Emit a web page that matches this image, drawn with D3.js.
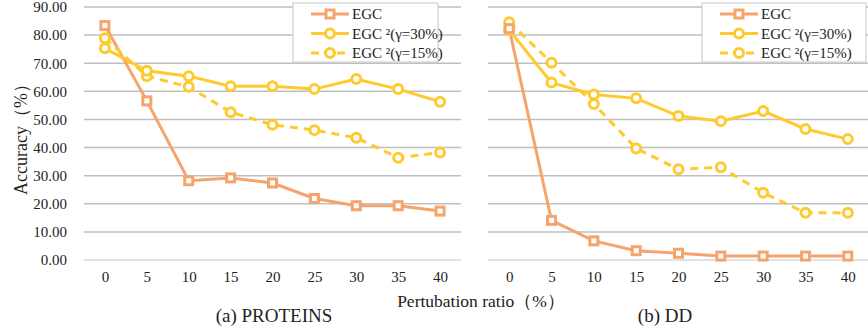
<!DOCTYPE html>
<html>
<head>
<meta charset="utf-8">
<script src="https://cdn.jsdelivr.net/npm/d3@7"></script>
<style>
body { margin: 0; background: #fff; }
svg text { font-family: "Liberation Serif", "Times New Roman", serif; fill: #222; }
</style>
</head>
<body>
<div id="chart"></div>
<script>
// perturbation ratios (x categories)
var ratios = ["0", "5", "10", "15", "20", "25", "30", "35", "40"];
var yTicks = [0, 10, 20, 30, 40, 50, 60, 70, 80, 90];
var seriesNames = ["EGC", "EGC \u00B2(\u03B3=30%)", "EGC \u00B2(\u03B3=15%)"];

// (a) PROTEINS
var proteinsEGC = [83.4, 56.6, 28.2, 29.2, 27.4, 21.9, 19.3, 19.3, 17.4];
var proteins30 = [75.3, 67.3, 65.4, 61.8, 61.8, 60.8, 64.4, 60.8, 56.3];
var proteins15 = [78.9, 65.4, 61.6, 52.6, 48.1, 46.2, 43.5, 36.4, 38.2];

// (b) DD
var ddEGC = [82.3, 14.1, 6.8, 3.3, 2.4, 1.4, 1.4, 1.4, 1.4];
var dd30 = [81.8, 63.1, 58.9, 57.5, 51.2, 49.4, 53.0, 46.6, 43.0];
var dd15 = [84.6, 70.2, 55.5, 39.7, 32.3, 33.0, 23.9, 16.8, 16.8];

var W = 868, H = 333;
var orange = "#F4A46C", yellow = "#FFCA2E";
var serif = "'Liberation Serif', 'Times New Roman', serif";

var svg = d3.select("#chart").append("svg")
    .attr("width", W)
    .attr("height", H)
    .attr("font-family", serif);

var y = d3.scaleLinear().domain([0, 90]).range([260, 7]);

var panels = [
  {range: [84, 461], series: [proteinsEGC, proteins30, proteins15], yLabels: true, caption: "(a) PROTEINS", cx: 274, legendX: 293},
  {range: [488, 869], series: [ddEGC, dd30, dd15], yLabels: false, caption: "(b) DD", cx: 665, legendX: 702}
];

var styles = [
  {color: orange, dash: null, marker: "square"},
  {color: yellow, dash: null, marker: "circle"},
  {color: yellow, dash: "8,6", marker: "circle"}
];

function drawMarker(g, kind, color, cx, cy) {
  if (kind == "square") {
    g.append("rect")
        .attr("x", cx - 4).attr("y", cy - 4)
        .attr("width", 8).attr("height", 8)
        .attr("fill", "#fff")
        .attr("stroke", color)
        .attr("stroke-width", 3);
  } else {
    g.append("circle")
        .attr("cx", cx).attr("cy", cy).attr("r", 4.5)
        .attr("fill", "#fff")
        .attr("stroke", color)
        .attr("stroke-width", 3);
  }
}

panels.forEach(function(p) {
  var x = d3.scalePoint().domain(ratios).range(p.range).padding(0.5);
  var g = svg.append("g");

  // gridlines
  g.selectAll("line.grid")
      .data(yTicks)
      .enter().append("line")
      .attr("x1", p.range[0]).attr("x2", p.range[1])
      .attr("y1", function(d) { return y(d); })
      .attr("y2", function(d) { return y(d); })
      .attr("stroke", function(d) { return d == 0 ? "#d9d9d9" : "#bfbfbf"; })
      .attr("stroke-width", 1.5);

  if (p.yLabels) {
    var yaxis = g.append("g")
        .attr("transform", "translate(" + (p.range[0] - 14) + ",0)")
        .call(d3.axisLeft(y).tickValues(yTicks).tickSize(0).tickFormat(d3.format(".2f")));
    yaxis.attr("font-family", serif).attr("font-size", 15);
    yaxis.select(".domain").remove();
    yaxis.selectAll("text").attr("fill", "#222");
  }

  // x tick labels
  var xaxis = g.append("g")
      .attr("transform", "translate(0,268)")
      .call(d3.axisBottom(x).tickSize(0));
  xaxis.attr("font-family", serif).attr("font-size", 15);
  xaxis.select(".domain").remove();
  xaxis.selectAll("text").attr("fill", "#222");

  // lines
  p.series.forEach(function(vals, si) {
    var st = styles[si];
    var line = d3.line()
        .x(function(d, i) { return x(ratios[i]); })
        .y(function(d) { return y(d); });
    g.append("path")
        .datum(vals)
        .attr("d", line)
        .attr("fill", "none")
        .attr("stroke", st.color)
        .attr("stroke-width", 3)
        .attr("stroke-dasharray", st.dash);
  });
  // markers drawn after lines
  [2, 1, 0].forEach(function(si) {
    var st = styles[si];
    p.series[si].forEach(function(v, i) {
      drawMarker(g, st.marker, st.color, x(ratios[i]), y(v));
    });
  });

  // legend
  var lg = g.append("g").attr("transform", "translate(" + p.legendX + ",3)");
  lg.append("rect")
      .attr("width", p.yLabels ? 145 : 164).attr("height", 59)
      .attr("fill", "#fff")
      .attr("stroke", "#c8c8c8");
  seriesNames.forEach(function(name, i) {
    var st = styles[i];
    var ly = 11 + i * 19.5;
    lg.append("line")
        .attr("x1", 18).attr("x2", 56)
        .attr("y1", ly).attr("y2", ly)
        .attr("stroke", st.color)
        .attr("stroke-width", 3)
        .attr("stroke-dasharray", st.dash ? "8,5" : null);
    drawMarker(lg, st.marker, st.color, 37, ly);
    lg.append("text")
        .attr("x", 59).attr("y", ly + 5)
        .style("font-size", "15px")
        .text(name);
  });

  // caption
  svg.append("text")
      .attr("x", p.cx).attr("y", 322)
      .attr("text-anchor", "middle")
      .style("font-size", "19px")
      .text(p.caption);
});

// axis titles
svg.append("text")
    .attr("transform", "translate(27,135) rotate(-90)")
    .attr("text-anchor", "middle")
    .style("font-size", "18px")
    .text("Accuracy\uFF08%\uFF09");

svg.append("text")
    .attr("x", 481).attr("y", 307)
    .attr("text-anchor", "middle")
    .style("font-size", "17.5px")
    .text("Pertubation ratio\uFF08%\uFF09");
</script>
</body>
</html>
